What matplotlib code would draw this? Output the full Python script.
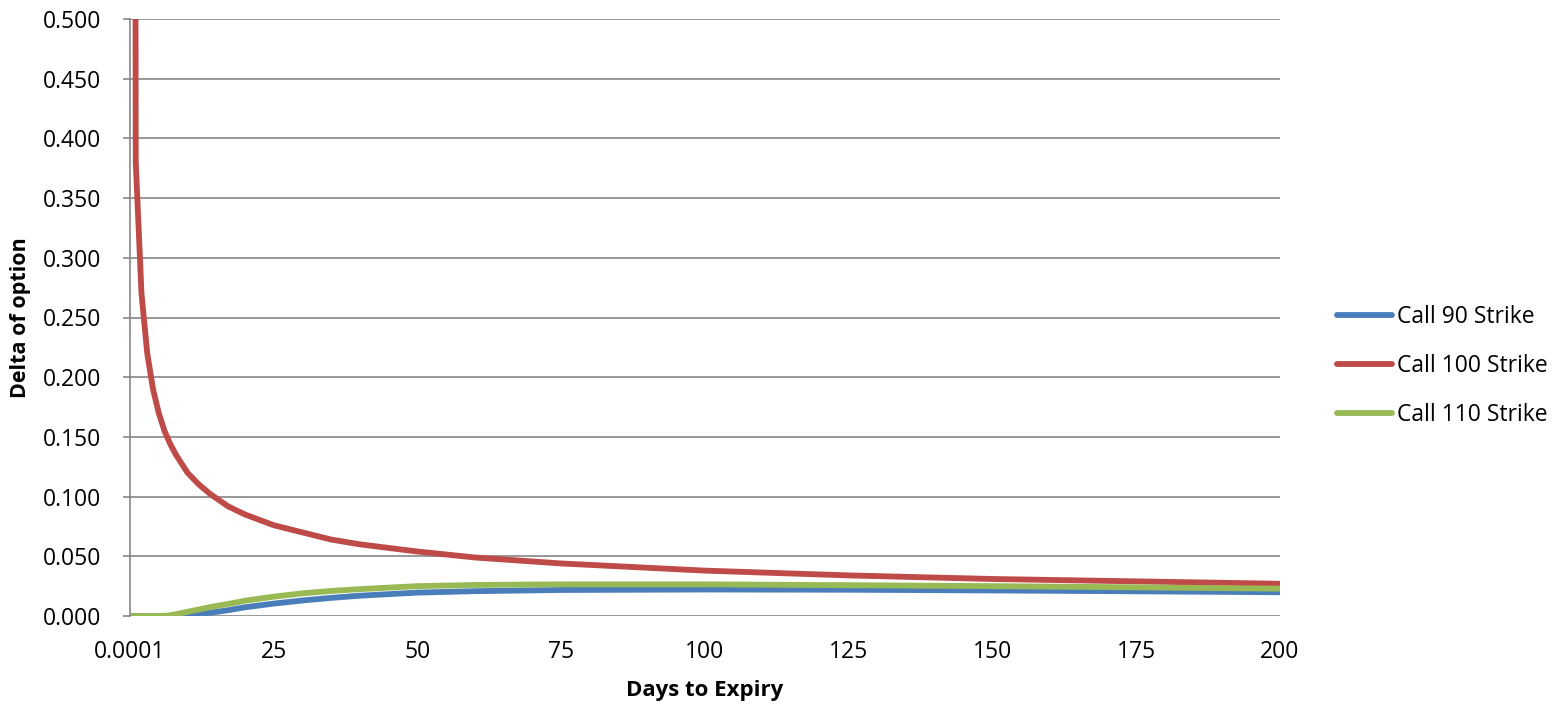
import matplotlib
matplotlib.use("Agg")
import matplotlib.pyplot as plt

# ---- data ----
days = [0.0001, 1, 2, 3, 4, 5, 6, 7, 8, 10, 12, 14, 17, 20, 25, 30, 35, 40,
        50, 60, 75, 100, 125, 150, 175, 200]

call_90 = [0, 0, 0, 0, 0, 0, 0, 0.0001, 0.0002, 0.0008, 0.0016, 0.0028, 0.0048,
           0.0073, 0.0104, 0.0130, 0.0152, 0.0170, 0.0196, 0.0208, 0.0218,
           0.0222, 0.0220, 0.0214, 0.0207, 0.0199]

call_100 = [3.8, 0.380, 0.270, 0.220, 0.190, 0.170, 0.155, 0.144, 0.135, 0.120,
            0.110, 0.102, 0.092, 0.085, 0.076, 0.070, 0.064, 0.060, 0.054,
            0.049, 0.044, 0.038, 0.034, 0.031, 0.029, 0.027]

call_110 = [0, 0, 0, 0, 0, 0, 0.0001, 0.0006, 0.0015, 0.0035, 0.0055, 0.0075,
            0.0100, 0.0128, 0.0162, 0.0190, 0.0210, 0.0225, 0.0250, 0.0260,
            0.0265, 0.0265, 0.0258, 0.0250, 0.0240, 0.0229]

x_ticks = [0.0001, 25, 50, 75, 100, 125, 150, 175, 200]
x_tick_labels = ["0.0001", "25", "50", "75", "100", "125", "150", "175", "200"]
y_ticks = [0.0, 0.05, 0.10, 0.15, 0.20, 0.25, 0.30, 0.35, 0.40, 0.45, 0.50]

series = [("Call 90 Strike", call_90, "#4A7EBB"),
          ("Call 100 Strike", call_100, "#BE4B48"),
          ("Call 110 Strike", call_110, "#98B954")]

plt.rcParams['font.family'] = ['Open Sans', 'DejaVu Sans']

fig = plt.figure(figsize=(15.6, 7.06), dpi=100)
ax = fig.add_axes([130/1560, 1-616/706, 1150/1560, 597/706])

for name, vals, col in series:
    ax.plot(days, vals, color=col, lw=4.2, label=name, solid_capstyle='round',
            solid_joinstyle='round')

ax.set_xlim(0.0001, 200)
ax.set_ylim(0, 0.5)
ax.set_yticks(y_ticks)
ax.set_yticklabels([f"{v:.3f}" for v in y_ticks])
ax.set_xticks(x_ticks)
ax.set_xticklabels(x_tick_labels)

ax.grid(axis='y', color='#868686', lw=1.2)
ax.set_axisbelow(True)
for s in ['top', 'right', 'bottom']:
    ax.spines[s].set_visible(False)
ax.spines['left'].set_color('#868686')
ax.spines['left'].set_linewidth(1.2)

ax.tick_params(axis='y', direction='out', length=5, width=1.2, color='#868686',
               pad=16, labelsize=16.5)
ax.tick_params(axis='x', length=0, pad=17, labelsize=16.5)

ax.set_ylabel("Delta of option", fontsize=15.5, fontweight='bold')
ax.yaxis.set_label_coords(-0.0857, 0.5)
ax.set_xlabel("Days to Expiry", fontsize=16, fontweight='bold')
ax.xaxis.set_label_coords(0.5, -0.108)

leg = ax.legend(loc='center left', bbox_to_anchor=(1337/1560, 1-366/706),
                bbox_transform=fig.transFigure, frameon=False, fontsize=16.5,
                handlelength=2.4, handletextpad=0.2, labelspacing=1.1,
                borderaxespad=0, borderpad=0)

fig.savefig("out.png", dpi=100)
